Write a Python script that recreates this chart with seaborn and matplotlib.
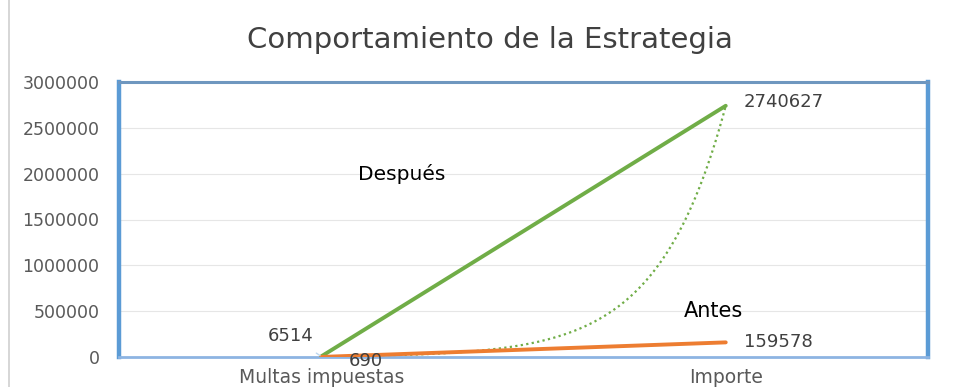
import numpy as np
import pandas as pd
import matplotlib
matplotlib.use("Agg")
import matplotlib.pyplot as plt
import seaborn as sns

categories = ["Multas impuestas", "Importe"]
despues = [6514, 2740627]
antes = [690, 159578]
yticks = [0, 500000, 1000000, 1500000, 2000000, 2500000, 3000000]
title = "Comportamiento de la Estrategia"

sns.set_theme(style="white")
plt.rcParams["font.family"] = ["DejaVu Sans"]

df = pd.DataFrame({
    "cat": categories * 2,
    "x": [0, 1, 0, 1],
    "valor": despues + antes,
    "serie": ["Después"] * 2 + ["Antes"] * 2,
})

W, H = 956, 387
fig = plt.figure(figsize=(W / 100, H / 100), dpi=100)
ax = fig.add_axes([119 / W, (H - 357) / H, 809 / W, 275 / H])

for yv in yticks[1:]:
    ax.axhline(yv, color="#e6e6e6", lw=0.8, zorder=0)

# exponential trendline of Después
xs = np.linspace(0, 1, 200)
b = np.log(despues[1] / despues[0])
trend = despues[0] * np.exp(b * xs)
ax.plot(xs, trend, color="#70AD47", lw=1.6, ls=(0, (1, 1.5)), zorder=2)

sns.lineplot(data=df, x="x", y="valor", hue="serie",
             palette={"Después": "#70AD47", "Antes": "#ED7D31"},
             lw=2.8, legend=False, ax=ax, zorder=3)

ax.set_xlim(-0.5, 1.5)
ax.set_ylim(0, 3000000)
ax.set_xticks([0, 1])
ax.set_xticklabels(categories, fontsize=13.5, color="#595959")
ax.set_yticks(yticks)
ax.set_yticklabels([str(v) for v in yticks], fontsize=12.5, color="#595959")
ax.tick_params(axis="y", pad=14, length=0)
ax.tick_params(axis="x", pad=8, length=0)
ax.set_xlabel("")
ax.set_ylabel("")

ax.spines["left"].set_color("#5B9BD5")
ax.spines["right"].set_color("#5B9BD5")
ax.spines["left"].set_linewidth(3.2)
ax.spines["right"].set_linewidth(3.2)
ax.spines["top"].set_color("#6F97BF")
ax.spines["top"].set_linewidth(2.2)
ax.spines["bottom"].set_color("#8DB4E2")
ax.spines["bottom"].set_linewidth(2.0)

lab_kw = dict(fontsize=13, color="#404040", va="center")
ax.text(1 + 0.045, despues[1] + 40000, str(despues[1]), ha="left", **lab_kw)
ax.text(1 + 0.045, antes[1], str(antes[1]), ha="left", **lab_kw)
ax.annotate(str(despues[0]), xy=(0, despues[0]), xytext=(-0.075, despues[0] + 220000),
            ha="center", arrowprops=dict(arrowstyle="-", color="#BDD7EE", lw=1,
                                         shrinkA=6, shrinkB=1), **lab_kw)
ax.text(0.11, antes[0] - 40000, str(antes[0]), ha="center", **lab_kw)
ax.text(0.09, 2000000, "Después", fontsize=14.5, color="black", va="center", ha="left")
ax.text(0.97, 500000, "Antes", fontsize=15, color="black", va="center", ha="center")

fig.text(490 / W, 1 - 40 / H, title, fontsize=21, color="#404040",
         ha="center", va="center")

fig.add_artist(plt.Line2D([9 / W, 9 / W], [0, 1], color="#d0d0d0", lw=1.2,
                          transform=fig.transFigure))

fig.savefig("out.png", dpi=100)
